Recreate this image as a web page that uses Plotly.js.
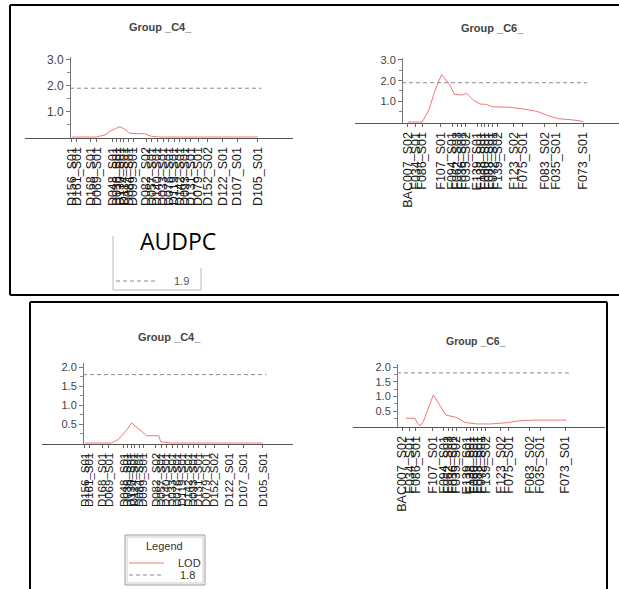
<!DOCTYPE html>
<html><head><meta charset="utf-8">
<script src="https://cdn.plot.ly/plotly-3.0.1.min.js"></script>
<style>html,body{margin:0;padding:0;background:#fff;}#chart{width:619px;height:589px;}</style>
</head><body><div id="chart"></div>
<script>
// ---- data ----
const c4Markers = ["D156_S01","D161_S01","D168_S01","D069_S01",
  "D048_S01","D036_S01","D130_S01","D114_S01","D084_S01","D099_S01",
  "D082_S02","D057_S01","D140_S01","D033_S01","D076_S01","D119_S01","D142_S01","D093_S01","D131_S01","D079_S01",
  "D152_S02","D122_S01","D107_S01","D105_S01"];
const c4Pos = [1,3.5,11,14.5, 23,25,27,29,31.5,34, 41,44,47,50,53,56,59,62,65,69, 74,82,90,101];

const c6Markers = ["BAC007_S02","F034_S01","F086_S01","F107_S01","F094_S01","F062_S03","F036_S01","F035_S02",
  "E139_S01","F138_S01","F060_S01","F088_S01","F072_S01","F139_S02","F123_S02","F075_S01","F083_S02","F035_S01","F073_S01"];
const c6Pos = [3,7,10.5,20,26,28.5,31,33,39,41,43,45,47,49.5,58,62.5,74,80,94];

// AUDPC (top panel)
const c4AudpcPos = [1,14,18.8,22,24.5,26.9,29.5,32,36,40,44,48,101];
const c4AudpcLod = [0,0,0.08,0.25,0.33,0.4,0.3,0.15,0.13,0.13,0.02,0,0];
const c6AudpcPos = [3,10.5,14,17,20.5,24.9,27,31,33.5,37,40.4,43.9,46.5,56,62.8,69.8,76.7,81,88.6,94];
const c6AudpcLod = [0,0,0.6,1.5,2.3,1.79,1.35,1.3,1.39,1.06,0.87,0.85,0.74,0.71,0.63,0.52,0.28,0.16,0.1,0.02];
const thrTop = 1.9;

// second trait (bottom panel)
const c4TraitPos = [1,16,20,23.6,25,27.3,31.5,35.8,42.7,43.6,50,101];
const c4TraitLod = [0,0,0.1,0.3,0.37,0.53,0.35,0.19,0.19,0.03,0,0];
const c6TraitPos = [5,10,11.4,12.8,14.7,20.3,27.4,30.5,33.3,38,44.5,52,61.3,68.7,76,94.8];
const c6TraitLod = [0.26,0.26,0.1,0,0.15,1.05,0.37,0.33,0.29,0.12,0.07,0.07,0.11,0.18,0.2,0.2];
const thrBottom = 1.8;

const topTicks = [1,2,3], topTickText = ["1.0","2.0","3.0"], topMinor = [0.5,1.5,2.5];
const botTicks = [0.5,1,1.5,2], botTickText = ["0.5","1.0","1.5","2.0"], botMinor = [0.25,0.75,1.25,1.75];

// ---- layout helpers (pixel geometry) ----
const W = 619, H = 589;
const px = x => x / W, py = y => 1 - y / H;
function xAx(axisPx, scale, leftPx, rightPx, pos, names, fs) {
  return {domain:[px(leftPx), px(rightPx)], range:[(leftPx-axisPx)/scale, (rightPx-axisPx)/scale],
    showline:true, linecolor:'#555', linewidth:1, ticks:'outside', ticklen:3, tickcolor:'#666',
    tickmode:'array', tickvals:pos, ticktext:names, tickangle:-90,
    tickfont:{family:'Liberation Sans, Arial, sans-serif', size:fs, color:'#1a1a1a'},
    showgrid:false, zeroline:false, fixedrange:true};
}
function yAx(axisPx, zeroPy, ppu, rmin, rmax, tv, tt, minor, fs) {
  return {domain:[1-(zeroPy - rmin*ppu)/H, 1-(zeroPy - rmax*ppu)/H], range:[rmin, rmax],
    anchor:'free', position:px(axisPx), showline:true, linecolor:'#777', linewidth:1,
    ticks:'outside', ticklen:4, tickcolor:'#777', tickmode:'array', tickvals:tv, ticktext:tt,
    minor:{tickmode:'array', tickvals:minor, ticks:'outside', ticklen:3, tickcolor:'#888'},
    tickfont:{family:'Liberation Sans, Arial, sans-serif', size:fs, color:'#444'},
    showgrid:false, zeroline:false, fixedrange:true};
}

const red = '#f07878', grey = '#8a8a8a';
function curve(x, y, xa, ya){ return {x, y, xaxis:xa, yaxis:ya, mode:'lines', line:{color:red, width:1}, hoverinfo:'skip'}; }
function thr(pos, t, xa, ya){ return {x:[0, Math.max(...pos)+2], y:[t,t], xaxis:xa, yaxis:ya, mode:'lines', line:{color:grey, width:1, dash:'4px,3px'}, hoverinfo:'skip'}; }

const data = [
  curve(c4AudpcPos, c4AudpcLod, 'x', 'y'), thr(c4Pos, thrTop, 'x', 'y'),
  curve(c6AudpcPos, c6AudpcLod, 'x2', 'y2'), thr(c6Pos, thrTop, 'x2', 'y2'),
  curve(c4TraitPos, c4TraitLod, 'x3', 'y3'), thr(c4Pos, thrBottom, 'x3', 'y3'),
  curve(c6TraitPos, c6TraitLod, 'x4', 'y4'), thr(c6Pos, thrBottom, 'x4', 'y4')
];

function line(x0,y0,x1,y1,color,width,dash){ return {type:'line', xref:'paper', yref:'paper', x0:px(x0), y0:py(y0), x1:px(x1), y1:py(y1), line:{color, width, dash:dash||'solid'}}; }
const shapes = [
  // outer frames
  line(10,5,619,5,'#000',2), line(10,5,10,295,'#000',2), line(10,295,619,295,'#000',2),
  line(30,302,607,302,'#000',2), line(30,302,30,589,'#000',2), line(607,302,607,589,'#000',2),
  // top legend box (partially hidden)
  line(113,236,113,290,'#bbb',1), line(113,290,201,290,'#bbb',1), line(201,268,201,290,'#bbb',1),
  line(116,281,156,281,grey,1,'4px,3px'),
  // bottom legend box (double border)
  line(125,535,205,535,'#999',1), line(125,585,205,585,'#999',1), line(125,535,125,585,'#999',1), line(205,535,205,585,'#999',1),
  line(127,537,203,537,'#ccc',1), line(127,583,203,583,'#ccc',1), line(127,537,127,583,'#ccc',1), line(203,537,203,583,'#ccc',1),
  line(129,563,164,563,red,1), line(129,575,164,575,grey,1,'4px,3px')
];

function ann(text,x,y,size,opts){ return Object.assign({text, xref:'paper', yref:'paper', x:px(x), y:py(y), xanchor:'center', yanchor:'middle', showarrow:false,
  font:{family:'Liberation Sans, Arial, sans-serif', size, color:'#444'}}, opts||{}); }
const annotations = [
  ann('<b>Group _C4_</b>',160,27,11), ann('<b>Group _C6_</b>',492,28,11),
  ann('<b>Group _C4_</b>',169,337,11), ann('<b>Group _C6_</b>',476,341,10.5),
  ann('AUDPC',178,241,23,{font:{family:'Open Sans, Noto Sans, sans-serif', size:23, color:'#000'}}),
  ann('1.9',181,281,11,{font:{family:'Liberation Sans, Arial, sans-serif', size:11, color:'#555'}}),
  ann('Legend',164,546,11,{font:{family:'Liberation Sans, Arial, sans-serif', size:11, color:'#333'}}),
  ann('LOD',190,563,11,{font:{family:'Liberation Sans, Arial, sans-serif', size:11, color:'#333'}}),
  ann('1.8',187,575,11,{font:{family:'Liberation Sans, Arial, sans-serif', size:11, color:'#333'}})
];

const layout = {
  width:W, height:H, margin:{l:0,r:0,t:0,b:0}, paper_bgcolor:'#fff', plot_bgcolor:'rgba(0,0,0,0)', showlegend:false,
  xaxis:  Object.assign(xAx(70, 1.86, 25, 293, c4Pos, c4Markers, 12.5), {anchor:'y'}),
  yaxis:  yAx(70, 137, 25.67, -0.04, 3.1, topTicks, topTickText, topMinor, 12),
  xaxis2: Object.assign(xAx(402, 1.93, 355, 619, c6Pos, c6Markers, 12.5), {anchor:'y2'}),
  yaxis2: yAx(402, 122, 20.67, -0.05, 3.1, topTicks, topTickText, topMinor, 11),
  xaxis3: Object.assign(xAx(83, 1.78, 42, 293, c4Pos, c4Markers, 11.5), {anchor:'y3'}),
  yaxis3: yAx(83, 443, 38, -0.03, 2.1, botTicks, botTickText, botMinor, 11),
  xaxis4: Object.assign(xAx(397, 1.79, 353, 605, c6Pos, c6Markers, 12.5), {anchor:'y4'}),
  yaxis4: yAx(397, 426, 29.5, -0.035, 2.1, botTicks, botTickText, botMinor, 11),
  shapes, annotations
};
Plotly.newPlot('chart', data, layout, {displayModeBar:false, staticPlot:true});
</script></body></html>
